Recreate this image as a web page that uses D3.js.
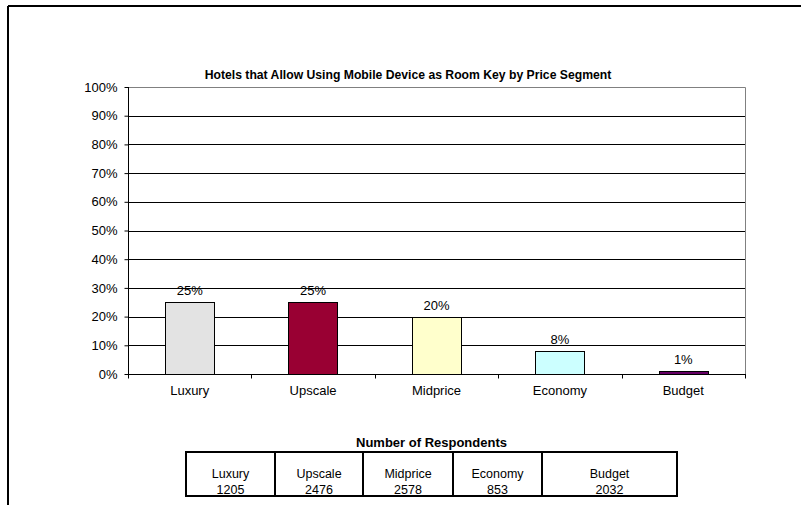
<!DOCTYPE html>
<html>
<head>
<meta charset="utf-8">
<script src="https://cdn.jsdelivr.net/npm/d3@7"></script>
<style>
  html, body { margin: 0; padding: 0; background: #fff; }
  svg { display: block; font-family: "Liberation Sans", Arial, sans-serif; }
</style>
</head>
<body>
<svg id="chart" width="801" height="505"></svg>
<script>
// Share of hotels allowing a mobile device as room key, by price segment
const categories = ["Luxury", "Upscale", "Midprice", "Economy", "Budget"];
const shares = [25, 25, 20, 8, 1];
const barColors = ["#E3E3E3", "#990033", "#FFFFCC", "#CCFFFF", "#660066"];
const yTicks = [0, 10, 20, 30, 40, 50, 60, 70, 80, 90, 100];
const respondents = [1205, 2476, 2578, 853, 2032];
const tableWidths = [89, 88, 90, 89, 135];

const svg = d3.select("#chart");

// outer frame: top and left edges
svg.append("line").attr("x1", 8).attr("x2", 801).attr("y1", 6).attr("y2", 6)
  .attr("stroke", "#000").attr("stroke-width", 2);
svg.append("line").attr("x1", 8).attr("x2", 8).attr("y1", 6).attr("y2", 505)
  .attr("stroke", "#000").attr("stroke-width", 2);

svg.append("text")
  .attr("x", 408).attr("y", 79)
  .attr("text-anchor", "middle")
  .attr("font-size", 12.2).attr("font-weight", "bold")
  .text("Hotels that Allow Using Mobile Device as Room Key by Price Segment");

const plot = { left: 128, right: 745, top: 87, bottom: 374 };

const x = d3.scaleBand().domain(categories)
  .range([plot.left, plot.right]).paddingInner(0.6).paddingOuter(0.3);
const xOuter = d3.scaleBand().domain(categories).range([plot.left, plot.right]);
const y = d3.scaleLinear().domain([0, 100]).range([plot.bottom, plot.top]);

// horizontal gridlines
svg.append("g").selectAll("line").data(yTicks.filter(t => t > 0 && t < 100)).join("line")
  .attr("x1", plot.left).attr("x2", plot.right)
  .attr("y1", d => Math.round(y(d)) + 0.5).attr("y2", d => Math.round(y(d)) + 0.5)
  .attr("stroke", "#000").attr("stroke-width", 1);

// plot border (top and right)
svg.append("path")
  .attr("d", `M${plot.left},${plot.top + 0.5}H${plot.right + 0.5}V${plot.bottom}`)
  .attr("fill", "none").attr("stroke", "#808080").attr("stroke-width", 1);

// bars
svg.append("g").selectAll("rect").data(categories).join("rect")
  .attr("x", d => Math.round(x(d)) + 0.5)
  .attr("width", Math.round(x.bandwidth()))
  .attr("y", (d, i) => Math.round(y(shares[i])) + 0.5)
  .attr("height", (d, i) => Math.round(y(0)) - Math.round(y(shares[i])))
  .attr("fill", (d, i) => barColors[i])
  .attr("stroke", "#000").attr("stroke-width", 1);

// value labels
svg.append("g").selectAll("text").data(categories).join("text")
  .attr("x", d => x(d) + x.bandwidth() / 2)
  .attr("y", (d, i) => y(shares[i]) - 7)
  .attr("text-anchor", "middle").attr("font-size", 13)
  .text((d, i) => shares[i] + "%");

// y axis
const yAxis = svg.append("g")
  .attr("transform", `translate(${plot.left + 0.5},0)`)
  .call(d3.axisLeft(y).tickValues(yTicks).tickSize(4).tickPadding(7)
    .tickFormat(d => d + "%"));
yAxis.select(".domain").attr("stroke", "#000").attr("d", `M0,${plot.top}V${plot.bottom + 0.5}`);
yAxis.selectAll(".tick line").attr("stroke", "#000");
yAxis.selectAll(".tick text").attr("font-size", 13).attr("fill", "#000")
  .attr("font-family", "Liberation Sans, Arial, sans-serif");

// x axis with ticks at category boundaries
const bottomY = Math.round(y(0)) + 0.5;
svg.append("line").attr("x1", plot.left).attr("x2", plot.right + 1)
  .attr("y1", bottomY).attr("y2", bottomY).attr("stroke", "#000");
const bounds = categories.map(c => xOuter(c)).concat([plot.right]);
svg.append("g").selectAll("line").data(bounds).join("line")
  .attr("x1", d => Math.round(d) + 0.5).attr("x2", d => Math.round(d) + 0.5)
  .attr("y1", bottomY).attr("y2", bottomY + 4).attr("stroke", "#000");
svg.append("g").selectAll("text").data(categories).join("text")
  .attr("x", d => xOuter(d) + xOuter.bandwidth() / 2)
  .attr("y", 395)
  .attr("text-anchor", "middle").attr("font-size", 13)
  .text(d => d);

// respondents table
svg.append("text")
  .attr("x", 431.5).attr("y", 447)
  .attr("text-anchor", "middle")
  .attr("font-size", 13).attr("font-weight", "bold")
  .text("Number of Respondents");

const tLeft = 186, tTop = 452, tBottom = 496;
const colEdges = [tLeft];
tableWidths.forEach(w => colEdges.push(colEdges[colEdges.length - 1] + w));
const tRight = colEdges[colEdges.length - 1];

svg.append("rect")
  .attr("x", tLeft).attr("y", tTop)
  .attr("width", tRight - tLeft).attr("height", tBottom - tTop)
  .attr("fill", "none").attr("stroke", "#000").attr("stroke-width", 2);
svg.append("g").selectAll("line").data(colEdges.slice(1, -1)).join("line")
  .attr("x1", d => d).attr("x2", d => d)
  .attr("y1", tTop).attr("y2", tBottom)
  .attr("stroke", "#000").attr("stroke-width", 2);

const cells = svg.append("g").selectAll("g").data(categories).join("g")
  .attr("transform", (d, i) => `translate(${(colEdges[i] + colEdges[i + 1]) / 2},0)`);
cells.append("text").attr("y", 478).attr("text-anchor", "middle")
  .attr("font-size", 12.5).text(d => d);
cells.append("text").attr("y", 494).attr("text-anchor", "middle")
  .attr("font-size", 12.5).text((d, i) => respondents[i]);
</script>
</body>
</html>
